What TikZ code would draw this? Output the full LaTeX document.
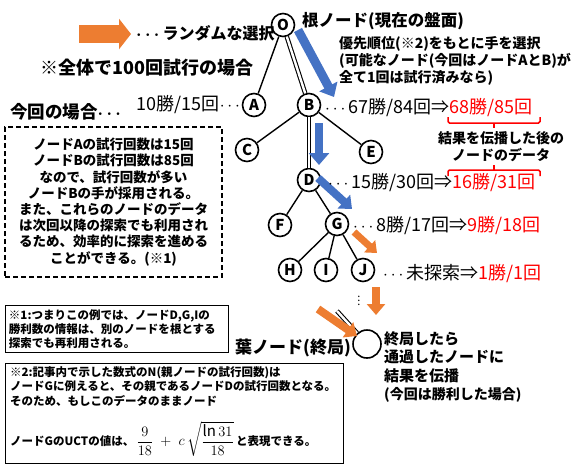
\documentclass[tikz,border=0pt]{standalone}
\usepackage{amsmath}
\usepackage{fontspec}
\setmainfont{Noto Sans CJK JP}
\usepackage{xcolor}
\usetikzlibrary{
  arrows.meta,
  calc,
  positioning
}
\definecolor{selblue}{HTML}{4472C4}
\definecolor{randorange}{HTML}{ED7D31}
\newcommand{\fs}[1]{\fontsize{#1}{#1}\selectfont}
\newcommand{\mdots}{\mbox{$\cdots$}}
\newcommand{\bmdots}{\mbox{\boldmath$\cdots$}}
\tikzset{
  tnode/.style={
    circle,
    draw,
    line width=1.6pt,
    minimum size=23pt,
    inner sep=0pt,
    font=\fs{15}\bfseries},
  treeedge/.style={line width=1.4pt},
  pathedge/.style={line width=1.1pt, double, double distance=2.4pt},
  bluearrow/.style={draw=selblue, line width=9pt, -{Triangle[width=20pt, length=12pt]}},
  orangearrow/.style={draw=randorange, line width=8pt, -{Triangle[width=18pt, length=11pt]}},
  lbl/.style={inner sep=0pt, font=\fontsize{14}{17}\selectfont\bfseries},
  numlbl/.style={inner sep=0pt, font=\fs{18}},
  newval/.style={numlbl, text=red, anchor=base west},
  brace/.style={draw=red, line width=1.5pt, rounded corners=1.5pt}
  }

\begin{document}
\begin{tikzpicture}[x=1pt, y=-1pt]
      \useasboundingbox (0,0) rectangle (572,467);
      \node [tnode] (O) at (283,25) {O};
      \node [tnode] (A) at (254,105) {A};
      \node [tnode] (B) at (309,105) {B};
      \node [tnode] (C) at (247,150) {C};
      \node [tnode] (E) at (371,152) {E};
      \node [tnode] (D) at (309,180) {D};
      \node [tnode] (F) at (280,225) {F};
      \node [tnode] (G) at (337,224) {G};
      \node [tnode] (H) at (290,270) {H};
      \node [tnode] (I) at (326,270) {I};
      \node [tnode] (J) at (363,270) {J};
      \node [tnode, minimum size=28pt] (leaf) at (367,344) {};
      \node [inner sep=0pt, font=\fs{11}] (vdots) at (359,298) {$\vdots$};
      \coordinate (leafin) at (337,311);
      \draw [treeedge] (O) to (A);
      \draw [pathedge] (O) to (B);
      \draw [treeedge] (B) to (C);
      \draw [treeedge] (B) to (E);
      \draw [pathedge] (B) to (D);
      \draw [treeedge] (D) to (F);
      \draw [treeedge] (D) to (G);
      \draw [treeedge] (G) to (H);
      \draw [treeedge] (G) to (I);
      \draw [treeedge] (G) to (J);
      \draw [pathedge] (leafin) to (leaf);
      \draw [bluearrow] (298,30) to (334,97);
      \draw [bluearrow, line width=8pt] (319,123) to (319,165);
      \draw [bluearrow, line width=8pt, -{Triangle[width=18pt, length=11pt]}] (318,178) to (352,209);
      \draw [orangearrow, line width=7pt, -{Triangle[width=16pt, length=10pt]}] (354,232) to (377,253);
      \draw [orangearrow] (376,287) to (376,315);
      \draw [orangearrow] (318,309) to (357,336);
      \coordinate (legstart) at (79,34);
      \coordinate (legend) at (131,34);
      \draw [draw=randorange, line width=18pt, -{Triangle[width=30pt, length=12pt]}] (legstart) to (legend);
      \node [lbl, font=\fs{16}\bfseries, anchor=west] (randlbl) at (136,33) {\bmdots ランダムな選択};
      \node [lbl, font=\fs{18}\bfseries, anchor=west] (total) at (40,68) {※全体で100回試行の場合};
      \node [lbl, font=\fs{17.5}\bfseries, anchor=west] (thiscase) at (10,112) {今回の場合\bmdots};
      \node [lbl, font=\fs{16.5}\bfseries, anchor=west] (rootlbl) at (302,21) {根ノード(現在の盤面)};
      \node [lbl, anchor=north west, align=left] (prio) at (339,36)
        {優先順位(※2)をもとに手を選択\\(可能なノード(今回はノードAとB)が\\全て1回は試行済みなら)};
      \node [numlbl, anchor=east] (Aval) at (243,105) {10勝/15回\mdots};
      \node [numlbl, anchor=west] (Bval) at (325,108) {\mdots 67勝/84回⇒};
      \node [newval] (Bnew) at (Bval.base east) {68勝/85回};
      \node [numlbl, anchor=west] (Dval) at (328,183) {\mdots 15勝/30回⇒};
      \node [newval] (Dnew) at (Dval.base east) {16勝/31回};
      \node [numlbl, anchor=west] (Gval) at (353,226) {\mdots 8勝/17回⇒};
      \node [newval] (Gnew) at (Gval.base east) {9勝/18回};
      \node [numlbl, anchor=west] (Jval) at (383,273) {\mdots 未探索⇒};
      \node [newval] (Jnew) at (Jval.base east) {1勝/1回};
      \draw [brace] (448,117) -- (448,123) -- (540,123) -- (540,117);
      \draw [brace] (494,123) -- (494,128);
      \draw [brace] (448,176) -- (448,170) -- (540,170) -- (540,176);
      \draw [brace] (494,170) -- (494,165);
      \node [lbl, align=center] (after) at (501,147) {結果を伝播した後の\\ノードのデータ};
      \node [lbl, font=\fs{17}\bfseries, anchor=east] (leaflbl) at (351,348) {葉ノード(終局)};
      \node [lbl, font=\fontsize{15}{18.5}\selectfont\bfseries, anchor=north west, align=left] (backup) at (384,331)
        {終局したら\\通過したノードに\\結果を伝播\\{\fs{14}(今回は勝利した場合)}};
      \node [draw, dashed, dash pattern=on 5pt off 3pt, line width=1.5pt, minimum width=217pt, minimum height=150pt,
        align=center, font=\fontsize{13.5}{16.2}\selectfont\bfseries] (reason) at (113.5,202)
        {ノードAの試行回数は15回\\ノードBの試行回数は85回\\なので、試行回数が多い\\ノードBの手が採用される。\\また、これらのノードのデータ\\は次回以降の探索でも利用され\\るため、効率的に探索を進める\\ことができる。(※1)};
      \node [draw, line width=1pt, anchor=north west, minimum width=223pt, minimum height=47pt,
        text width=216pt, inner sep=3pt, align=left, font=\fontsize{11.5}{14}\selectfont\bfseries] (note1) at (5,305)
        {※1:つまりこの例では、ノードD,G,Iの\\勝利数の情報は、別のノードを根とする\\探索でも再利用される。};
      \node [draw, line width=1pt, anchor=north west, minimum width=338pt, minimum height=100pt] (note2) at (5,363) {};
      \node [anchor=north west, inner sep=0pt, align=left, font=\fontsize{11.5}{14.5}\selectfont\bfseries] (note2txt) at (10,366)
        {※2:記事内で示した数式のN(親ノードの試行回数)は\\ノードGに例えると、その親であるノードDの試行回数となる。\\そのため、もしこのデータのままノード};
      \node [anchor=west, inner sep=0pt, font=\fontsize{11.5}{14.5}\selectfont\bfseries] (uct) at (10,439)
        {ノードGのUCTの値は、{\fs{15}$\,\dfrac{9}{18}\;+\;c\,\sqrt{\dfrac{\ln 31}{18}}\,$}と表現できる。};
    \end{tikzpicture}
\end{document}
